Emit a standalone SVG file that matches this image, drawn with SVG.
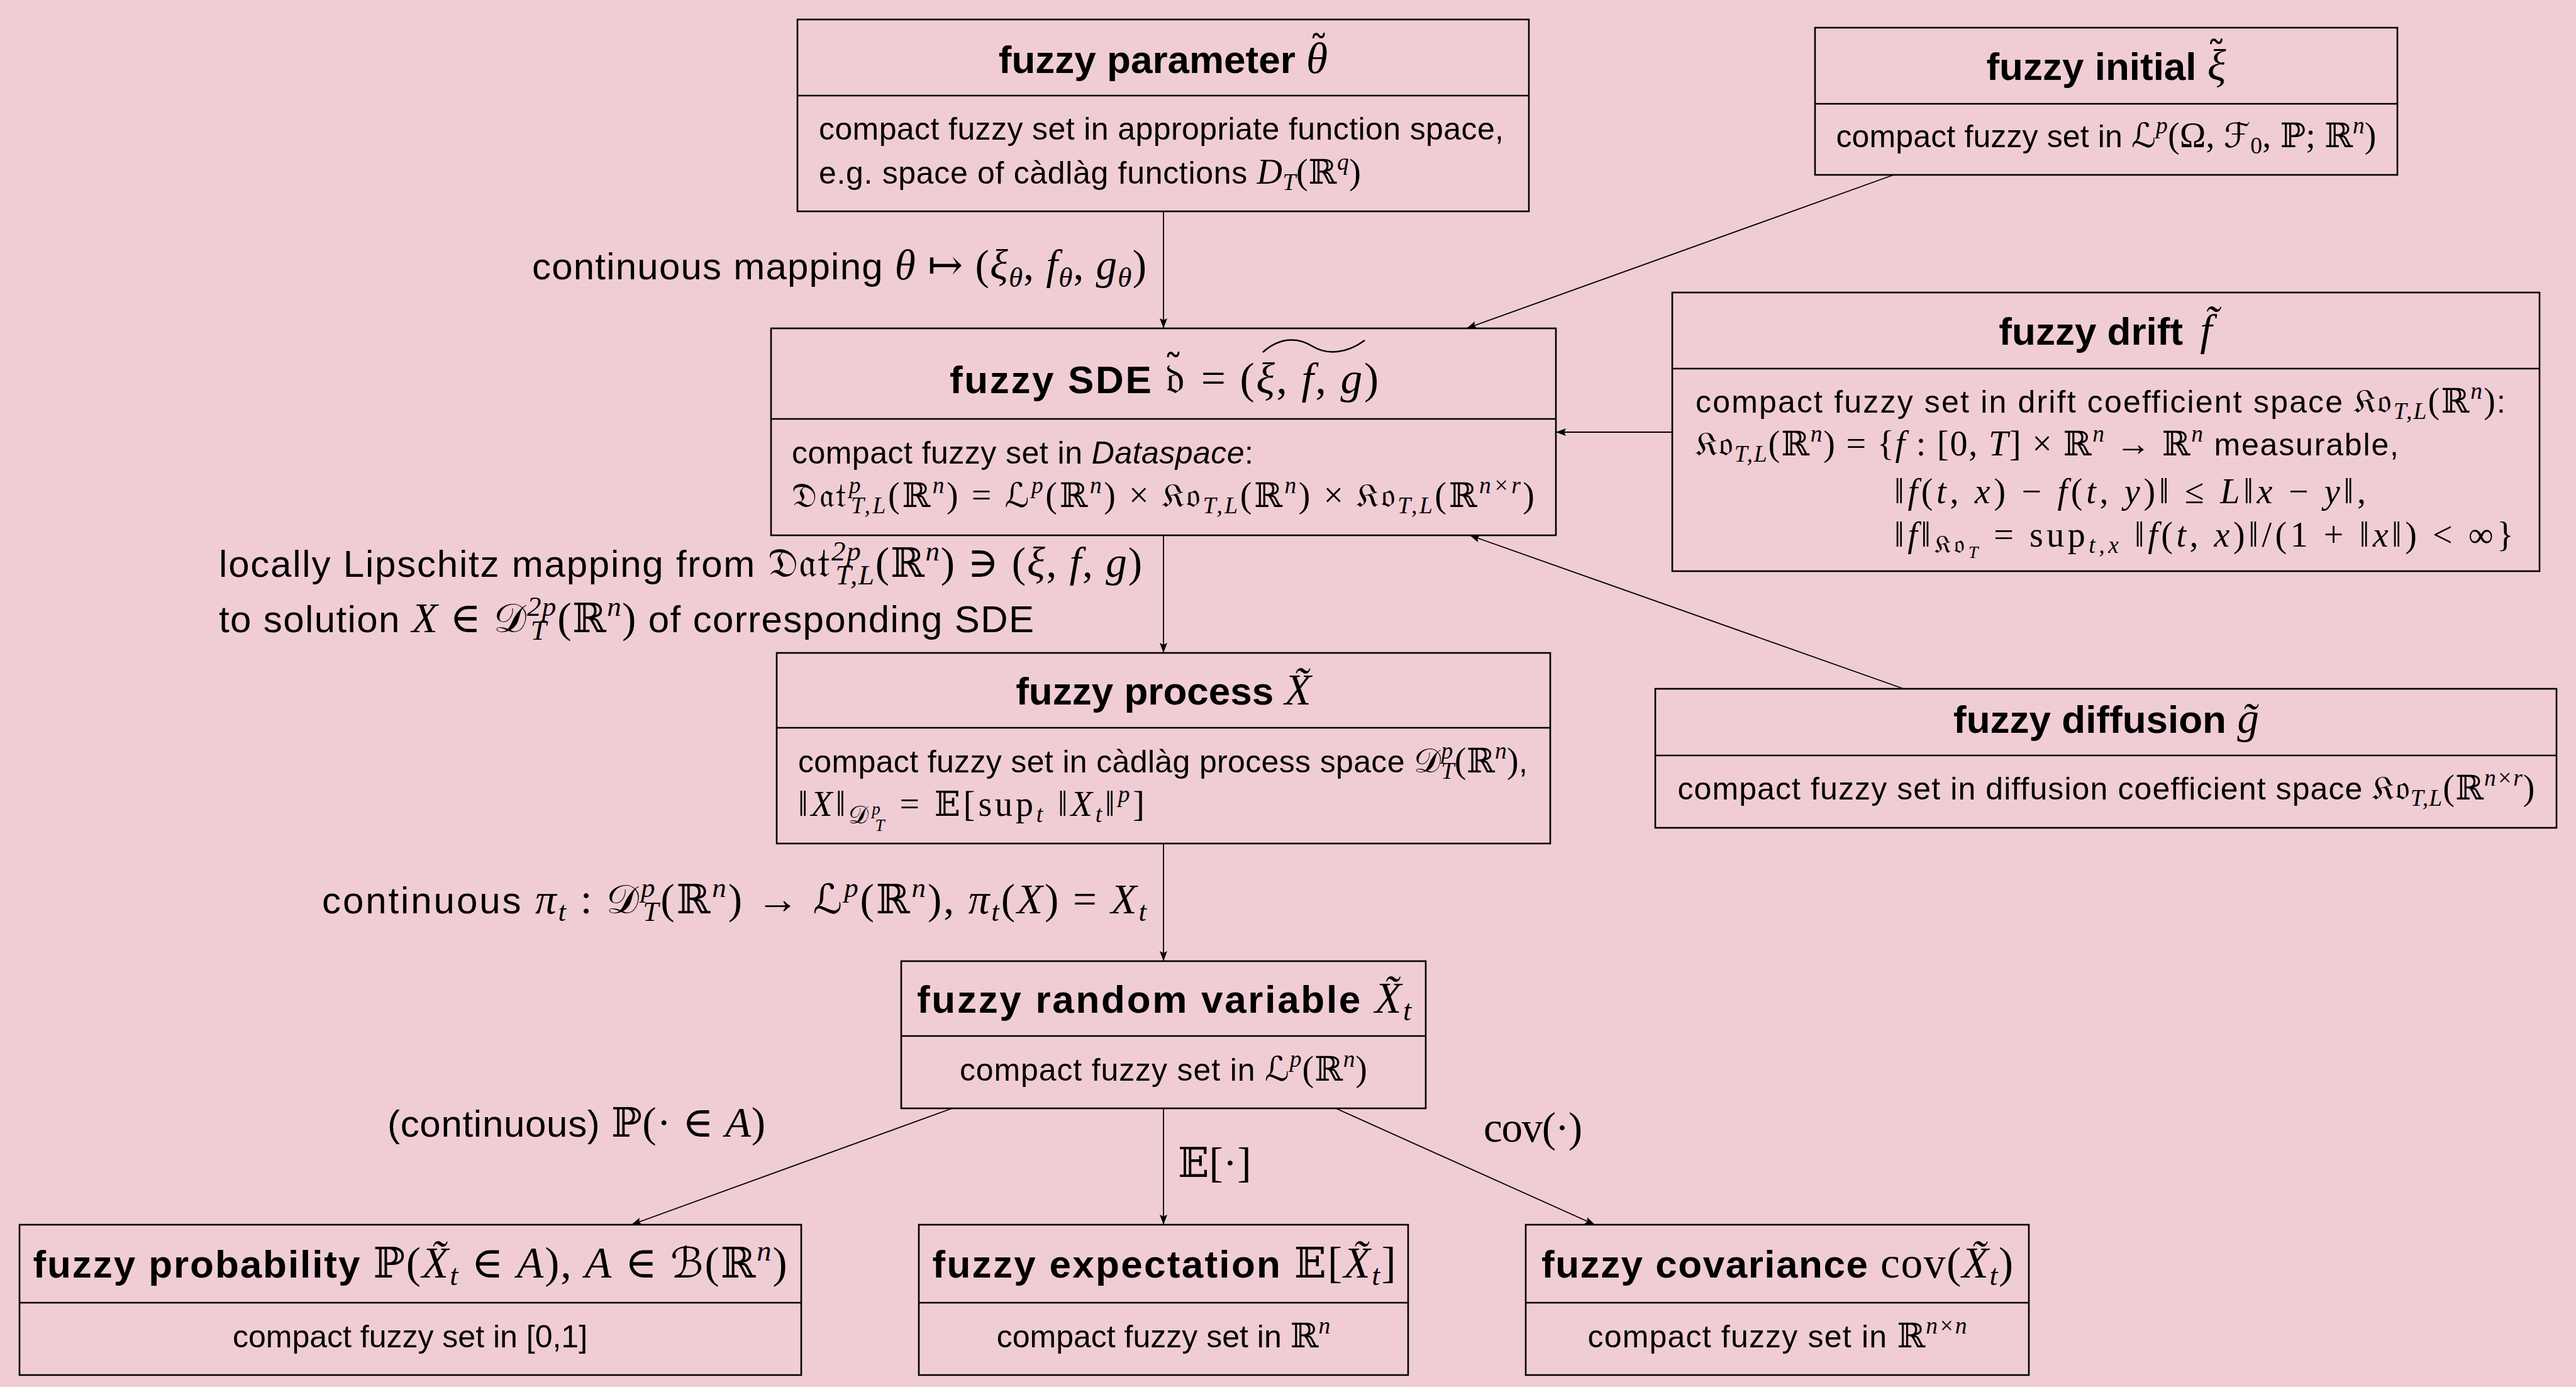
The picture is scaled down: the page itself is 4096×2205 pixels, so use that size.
<svg xmlns="http://www.w3.org/2000/svg" width="4096" height="2205" viewBox="0 0 4096 2205">
<defs>
<style>
.box{fill:none;stroke:#000;stroke-width:2.6}
.con{fill:none;stroke:#000;stroke-width:1.8;marker-end:url(#ah)}
text{fill:#000}
.t{font-family:"Liberation Sans",Arial,sans-serif;font-weight:bold;font-size:62px}
.b{font-family:"Liberation Sans",Arial,sans-serif;font-size:50px}
.l{font-family:"Liberation Sans",Arial,sans-serif;font-size:60px}
.i{font-family:"Liberation Serif","DejaVu Serif",serif;font-style:italic;font-weight:normal;font-size:112%}
.u{font-family:"Liberation Serif","DejaVu Serif",serif;font-style:normal;font-weight:normal;font-size:112%}
.d{font-family:"DejaVu Serif","DejaVu Sans","Noto Sans",serif;font-style:normal;font-weight:normal;font-size:108%}
.s{font-size:75%}
.k{font-family:"DejaVu Serif",serif;font-style:normal;font-weight:normal;font-size:100%}
</style>
<marker id="ah" markerUnits="userSpaceOnUse" markerWidth="17" markerHeight="13" refX="16" refY="6.5" orient="auto"><path d="M0,0.5 L16,6.5 L0,12.5 L3,6.5 z" fill="#000"/></marker>
</defs>
<rect x="0" y="0" width="4096" height="2205" fill="#F0CDD5"/>

<g id="connectors">
<line class="con" x1="1850" y1="336" x2="1850" y2="522"/>
<line class="con" x1="3011" y1="278" x2="2332" y2="522"/>
<line class="con" x1="2659" y1="687" x2="2474" y2="687"/>
<line class="con" x1="3027" y1="1095" x2="2337" y2="851"/>
<line class="con" x1="1850" y1="851" x2="1850" y2="1038"/>
<line class="con" x1="1850" y1="1341" x2="1850" y2="1528"/>
<line class="con" x1="1514" y1="1762" x2="1004" y2="1947"/>
<line class="con" x1="1850" y1="1762" x2="1850" y2="1947"/>
<line class="con" x1="2124" y1="1762" x2="2536" y2="1947"/>
</g>

<g id="edge-labels">
<text class="l" x="1823" y="444" text-anchor="end" textLength="977">continuous mapping <tspan class="i">θ</tspan><tspan class="u"> ↦ (</tspan><tspan class="i">ξ</tspan><tspan class="i s" baseline-shift="-12">θ</tspan><tspan class="u">, </tspan><tspan class="i">f</tspan><tspan class="i s" baseline-shift="-12">θ</tspan><tspan class="u">, </tspan><tspan class="i">g</tspan><tspan class="i s" baseline-shift="-12">θ</tspan><tspan class="u">)</tspan></text>
<text class="l" x="348" y="917" textLength="1468">locally Lipschitz mapping from <tspan class="d">𝔇𝔞𝔱</tspan><tspan class="i s" baseline-shift="26">2p</tspan><tspan class="i s" baseline-shift="-12" dx="-42">T,L</tspan><tspan class="u">(</tspan><tspan class="d">ℝ</tspan><tspan class="i s" baseline-shift="26">n</tspan><tspan class="u">) ∋ (</tspan><tspan class="i">ξ</tspan><tspan class="u">, </tspan><tspan class="i">f</tspan><tspan class="u">, </tspan><tspan class="i">g</tspan><tspan class="u">)</tspan></text>
<text class="l" x="348" y="1005" textLength="1296">to solution <tspan class="i">X</tspan><tspan class="u"> ∈ </tspan><tspan class="d">𝒟</tspan><tspan class="i s" baseline-shift="26">2p</tspan><tspan class="i s" baseline-shift="-12" dx="-42">T</tspan><tspan class="u" dx="16">(</tspan><tspan class="d">ℝ</tspan><tspan class="i s" baseline-shift="26">n</tspan><tspan class="u">)</tspan> of corresponding SDE</text>
<text class="l" x="512" y="1452" textLength="1311">continuous <tspan class="i">π</tspan><tspan class="i s" baseline-shift="-12">t</tspan><tspan class="u"> : </tspan><tspan class="d">𝒟</tspan><tspan class="i s" baseline-shift="26">p</tspan><tspan class="i s" baseline-shift="-12" dx="-22">T</tspan><tspan class="u">(</tspan><tspan class="d">ℝ</tspan><tspan class="i s" baseline-shift="26">n</tspan><tspan class="u">) → </tspan><tspan class="d">ℒ</tspan><tspan class="i s" baseline-shift="26">p</tspan><tspan class="u">(</tspan><tspan class="d">ℝ</tspan><tspan class="i s" baseline-shift="26">n</tspan><tspan class="u">), </tspan><tspan class="i">π</tspan><tspan class="i s" baseline-shift="-12">t</tspan><tspan class="u">(</tspan><tspan class="i">X</tspan><tspan class="u">) = </tspan><tspan class="i">X</tspan><tspan class="i s" baseline-shift="-12">t</tspan></text>
<text class="l" x="616" y="1807" textLength="601">(continuous) <tspan class="d">ℙ</tspan><tspan class="u">(· ∈ </tspan><tspan class="i">A</tspan><tspan class="u">)</tspan></text>
<text class="l" x="1873" y="1871"><tspan class="d">𝔼</tspan><tspan class="u">[·]</tspan></text>
<text class="l" x="2359" y="1815" textLength="157"><tspan class="u">cov(·)</tspan></text>
</g>

<g id="n-param">
<rect class="box" x="1268" y="31" width="1163" height="305"/>
<line class="box" x1="1268" y1="152" x2="2431" y2="152"/>
<text class="t" x="1850" y="116" text-anchor="middle">fuzzy parameter <tspan class="i">θ</tspan><tspan class="k" dx="-30" baseline-shift="15">˜</tspan></text>
<text class="b" x="1302" y="222" textLength="1089">compact fuzzy set in appropriate function space,</text>
<text class="b" x="1302" y="292" textLength="862">e.g. space of càdlàg functions <tspan class="i">D</tspan><tspan class="i s" baseline-shift="-10">T</tspan><tspan class="u">(</tspan><tspan class="d">ℝ</tspan><tspan class="i s" baseline-shift="22">q</tspan><tspan class="u">)</tspan></text>
</g>

<g id="n-initial">
<rect class="box" x="2886" y="44" width="926" height="234"/>
<line class="box" x1="2886" y1="165" x2="3812" y2="165"/>
<text class="t" x="3349" y="127" text-anchor="middle">fuzzy initial <tspan class="i">ξ</tspan><tspan class="k" dx="-31" baseline-shift="17">˜</tspan></text>
<text class="b" x="3349" y="234" text-anchor="middle" textLength="859">compact fuzzy set in <tspan class="d">ℒ</tspan><tspan class="i s" baseline-shift="22">p</tspan><tspan class="u">(Ω, </tspan><tspan class="d">ℱ</tspan><tspan class="u s" baseline-shift="-10">0</tspan><tspan class="u">, </tspan><tspan class="d">ℙ</tspan><tspan class="u">; </tspan><tspan class="d">ℝ</tspan><tspan class="i s" baseline-shift="22">n</tspan><tspan class="u">)</tspan></text>
</g>

<g id="n-sde">
<rect class="box" x="1226" y="522" width="1248" height="329"/>
<line class="box" x1="1226" y1="666" x2="2474" y2="666"/>
<text class="t" x="1851" y="625" text-anchor="middle" textLength="682">fuzzy SDE <tspan class="d">𝔡</tspan><tspan class="k" dx="-36" baseline-shift="17">˜</tspan><tspan class="u" dx="6"> = (</tspan><tspan class="i">ξ</tspan><tspan class="u">, </tspan><tspan class="i">f</tspan><tspan class="u">, </tspan><tspan class="i">g</tspan><tspan class="u">)</tspan></text>
<path d="M2008,560 C2033,537 2062,535 2086,550 C2110,565 2142,562 2170,541" fill="none" stroke="#000" stroke-width="2.5"/>
<text class="b" x="1259" y="737" textLength="734">compact fuzzy set in <tspan font-style="italic">Dataspace</tspan>:</text>
<text class="b" x="1259" y="806" textLength="1181"><tspan class="d">𝔇𝔞𝔱</tspan><tspan class="i s" baseline-shift="22">p</tspan><tspan class="i s" baseline-shift="-10" dx="-19">T,L</tspan><tspan class="u">(</tspan><tspan class="d">ℝ</tspan><tspan class="i s" baseline-shift="22">n</tspan><tspan class="u">) = </tspan><tspan class="d">ℒ</tspan><tspan class="i s" baseline-shift="22">p</tspan><tspan class="u">(</tspan><tspan class="d">ℝ</tspan><tspan class="i s" baseline-shift="22">n</tspan><tspan class="u">) × </tspan><tspan class="d">𝔎𝔬</tspan><tspan class="i s" baseline-shift="-10">T,L</tspan><tspan class="u">(</tspan><tspan class="d">ℝ</tspan><tspan class="i s" baseline-shift="22">n</tspan><tspan class="u">) × </tspan><tspan class="d">𝔎𝔬</tspan><tspan class="i s" baseline-shift="-10">T,L</tspan><tspan class="u">(</tspan><tspan class="d">ℝ</tspan><tspan class="i s" baseline-shift="22">n×r</tspan><tspan class="u">)</tspan></text>
</g>

<g id="n-drift">
<rect class="box" x="2659" y="465" width="1379" height="443"/>
<line class="box" x1="2659" y1="586" x2="4038" y2="586"/>
<text class="t" x="3348" y="548" text-anchor="middle">fuzzy drift <tspan class="i" dx="10">f̃</tspan></text>
<text class="b" x="2696" y="656" textLength="1288">compact fuzzy set in drift coefficient space <tspan class="d">𝔎𝔬</tspan><tspan class="i s" baseline-shift="-10">T,L</tspan><tspan class="u">(</tspan><tspan class="d">ℝ</tspan><tspan class="i s" baseline-shift="22">n</tspan><tspan class="u">)</tspan>:</text>
<text class="b" x="2696" y="724" textLength="1118"><tspan class="d">𝔎𝔬</tspan><tspan class="i s" baseline-shift="-10">T,L</tspan><tspan class="u">(</tspan><tspan class="d">ℝ</tspan><tspan class="i s" baseline-shift="22">n</tspan><tspan class="u">) = {</tspan><tspan class="i">f</tspan><tspan class="u"> : [0, </tspan><tspan class="i">T</tspan><tspan class="u">] × </tspan><tspan class="d">ℝ</tspan><tspan class="i s" baseline-shift="22">n</tspan><tspan class="u"> → </tspan><tspan class="d">ℝ</tspan><tspan class="i s" baseline-shift="22">n</tspan> measurable,</text>
<text class="b" x="3012" y="800" textLength="750"><tspan class="u">‖</tspan><tspan class="i">f</tspan><tspan class="u">(</tspan><tspan class="i">t</tspan><tspan class="u">, </tspan><tspan class="i">x</tspan><tspan class="u">) − </tspan><tspan class="i">f</tspan><tspan class="u">(</tspan><tspan class="i">t</tspan><tspan class="u">, </tspan><tspan class="i">y</tspan><tspan class="u">)‖ ≤ </tspan><tspan class="i">L</tspan><tspan class="u">‖</tspan><tspan class="i">x</tspan><tspan class="u"> − </tspan><tspan class="i">y</tspan><tspan class="u">‖,</tspan></text>
<text class="b" x="3012" y="869" textLength="985"><tspan class="u">‖</tspan><tspan class="i">f</tspan><tspan class="u">‖</tspan><tspan class="d" style="font-size:40px" baseline-shift="-10">𝔎𝔬</tspan><tspan class="i" style="font-size:28px" baseline-shift="-18">T</tspan><tspan class="u"> = sup</tspan><tspan class="i s" baseline-shift="-10">t,x</tspan><tspan class="u"> ‖</tspan><tspan class="i">f</tspan><tspan class="u">(</tspan><tspan class="i">t</tspan><tspan class="u">, </tspan><tspan class="i">x</tspan><tspan class="u">)‖/(1 + ‖</tspan><tspan class="i">x</tspan><tspan class="u">‖) &lt; ∞}</tspan></text>
</g>

<g id="n-process">
<rect class="box" x="1235" y="1038" width="1230" height="303"/>
<line class="box" x1="1235" y1="1157" x2="2465" y2="1157"/>
<text class="t" x="1850" y="1120" text-anchor="middle">fuzzy process <tspan class="i">X̃</tspan></text>
<text class="b" x="1269" y="1228" textLength="1160">compact fuzzy set in càdlàg process space <tspan class="d">𝒟</tspan><tspan class="i s" baseline-shift="22">p</tspan><tspan class="i s" baseline-shift="-10" dx="-19">T</tspan><tspan class="u">(</tspan><tspan class="d">ℝ</tspan><tspan class="i s" baseline-shift="22">n</tspan><tspan class="u">)</tspan>,</text>
<text class="b" x="1269" y="1297" textLength="551"><tspan class="u">‖</tspan><tspan class="i">X</tspan><tspan class="u">‖</tspan><tspan class="d" style="font-size:40px" baseline-shift="-12">𝒟</tspan><tspan class="i" style="font-size:27px" baseline-shift="2">p</tspan><tspan class="i" style="font-size:27px" baseline-shift="-24" dx="-13">T</tspan><tspan class="u"> = </tspan><tspan class="d">𝔼</tspan><tspan class="u">[sup</tspan><tspan class="i s" baseline-shift="-10">t</tspan><tspan class="u"> ‖</tspan><tspan class="i">X</tspan><tspan class="i s" baseline-shift="-10">t</tspan><tspan class="u">‖</tspan><tspan class="i s" baseline-shift="22">p</tspan><tspan class="u">]</tspan></text>
</g>

<g id="n-diffusion">
<rect class="box" x="2632" y="1095" width="1433" height="221"/>
<line class="box" x1="2632" y1="1201" x2="4065" y2="1201"/>
<text class="t" x="3349" y="1165" text-anchor="middle">fuzzy diffusion <tspan class="i">g̃</tspan></text>
<text class="b" x="3349" y="1271" text-anchor="middle" textLength="1363">compact fuzzy set in diffusion coefficient space <tspan class="d">𝔎𝔬</tspan><tspan class="i s" baseline-shift="-10">T,L</tspan><tspan class="u">(</tspan><tspan class="d">ℝ</tspan><tspan class="i s" baseline-shift="22">n×r</tspan><tspan class="u">)</tspan></text>
</g>

<g id="n-randvar">
<rect class="box" x="1433" y="1528" width="834" height="234"/>
<line class="box" x1="1433" y1="1647" x2="2267" y2="1647"/>
<text class="t" x="1851" y="1610" text-anchor="middle" textLength="786">fuzzy random variable <tspan class="i">X̃</tspan><tspan class="i s" baseline-shift="-12">t</tspan></text>
<text class="b" x="1850" y="1718" text-anchor="middle" textLength="648">compact fuzzy set in <tspan class="d">ℒ</tspan><tspan class="i s" baseline-shift="22">p</tspan><tspan class="u">(</tspan><tspan class="d">ℝ</tspan><tspan class="i s" baseline-shift="22">n</tspan><tspan class="u">)</tspan></text>
</g>

<g id="n-prob">
<rect class="box" x="31" y="1947" width="1243" height="239"/>
<line class="box" x1="31" y1="2071" x2="1274" y2="2071"/>
<text class="t" x="652" y="2031" text-anchor="middle" textLength="1199">fuzzy probability <tspan class="d">ℙ</tspan><tspan class="u">(</tspan><tspan class="i">X̃</tspan><tspan class="i s" baseline-shift="-12">t</tspan><tspan class="u"> ∈ </tspan><tspan class="i">A</tspan><tspan class="u">),  </tspan><tspan class="i">A</tspan><tspan class="u"> ∈ </tspan><tspan class="d">ℬ</tspan><tspan class="u">(</tspan><tspan class="d">ℝ</tspan><tspan class="i s" baseline-shift="27">n</tspan><tspan class="u">)</tspan></text>
<text class="b" x="652" y="2142" text-anchor="middle">compact fuzzy set in [0,1]</text>
</g>

<g id="n-expect">
<rect class="box" x="1461" y="1947" width="778" height="239"/>
<line class="box" x1="1461" y1="2071" x2="2239" y2="2071"/>
<text class="t" x="1851" y="2031" text-anchor="middle" textLength="737">fuzzy expectation <tspan class="d">𝔼</tspan><tspan class="u">[</tspan><tspan class="i">X̃</tspan><tspan class="i s" baseline-shift="-12">t</tspan><tspan class="u">]</tspan></text>
<text class="b" x="1850" y="2142" text-anchor="middle">compact fuzzy set in <tspan class="d">ℝ</tspan><tspan class="i s" baseline-shift="22">n</tspan></text>
</g>

<g id="n-cov">
<rect class="box" x="2426" y="1947" width="800" height="239"/>
<line class="box" x1="2426" y1="2071" x2="3226" y2="2071"/>
<text class="t" x="2826" y="2031" text-anchor="middle" textLength="750">fuzzy covariance <tspan class="u">cov(</tspan><tspan class="i">X̃</tspan><tspan class="i s" baseline-shift="-12">t</tspan><tspan class="u">)</tspan></text>
<text class="b" x="2826" y="2142" text-anchor="middle" textLength="603">compact fuzzy set in <tspan class="d">ℝ</tspan><tspan class="i s" baseline-shift="22">n×n</tspan></text>
</g>
</svg>
